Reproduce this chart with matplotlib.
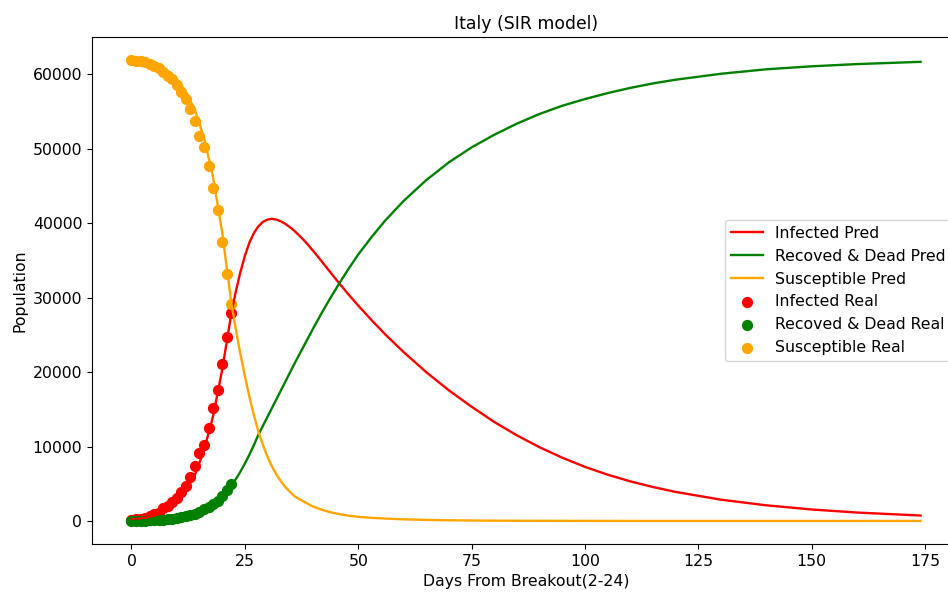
import matplotlib
matplotlib.use("Agg")
import matplotlib.pyplot as plt

# Real data (days from 2-24)
real_days = list(range(23))
infected_real = [155, 229, 322, 400, 650, 888, 1128, 1694, 2036, 2502, 3089, 3858,
                 4636, 5883, 7375, 9172, 10149, 12462, 15113, 17660, 21157, 24747, 27980]
recovered_real = [3, 8, 11, 15, 62, 67, 79, 117, 201, 239, 383, 562,
                  720, 822, 988, 1187, 1635, 1872, 2274, 2705, 3407, 4144, 4907]
susceptible_real = [61942, 61863, 61767, 61685, 61388, 61145, 60893, 60289, 59863, 59359,
                    58628, 57680, 56744, 55395, 53737, 51741, 50316, 47766, 44713, 41735,
                    37536, 33209, 29213]

# SIR prediction
pred_days = [0, 2, 4, 6, 8, 10, 12, 14, 16, 18, 20, 22, 23, 24, 25, 26, 27, 28, 29, 30,
             31, 32, 33, 34, 35, 36, 38, 40, 42, 44, 46, 48, 50, 53, 56, 60, 65, 70, 75,
             80, 85, 90, 95, 100, 105, 110, 115, 120, 130, 140, 150, 160, 174]
infected_pred = [200, 330, 550, 900, 1500, 2450, 3950, 6200, 9500, 14100, 20300, 27800,
                 30800, 33400, 35600, 37400, 38700, 39600, 40200, 40500, 40600, 40500,
                 40250, 39900, 39450, 38950, 37750, 36350, 34850, 33300, 31800, 30350,
                 28950, 26950, 25050, 22700, 20000, 17550, 15350, 13300, 11500, 9900,
                 8500, 7270, 6220, 5320, 4560, 3900, 2860, 2100, 1540, 1130, 730]
recovered_pred = [10, 15, 40, 80, 160, 300, 520, 850, 1350, 2100, 3200, 4800,
                  5600, 6600, 7700, 8900, 10200, 11600, 12800, 14000, 15200, 16400,
                  17600, 18800, 20000, 21200, 23500, 25800, 28000, 30100, 32100, 34000,
                  35800, 38200, 40400, 43000, 45800, 48200, 50200, 51900, 53400, 54700,
                  55800, 56700, 57500, 58200, 58800, 59300, 60100, 60700, 61100, 61400,
                  61700]
susceptible_pred = [61900, 61800, 61600, 61200, 60500, 59400, 57700, 55200, 51500, 46200,
                    38800, 29400, 25800, 22500, 19500, 16700, 14200, 12000, 10200, 8600,
                    7300, 6200, 5300, 4500, 3900, 3300, 2600, 1950, 1500, 1150, 900, 700,
                    560, 420, 320, 220, 140, 90, 60, 40, 28, 20, 14, 10, 7, 5, 4, 3, 2, 1,
                    1, 0, 0]

plt.rcParams['font.family'] = 'DejaVu Sans'
plt.rcParams['font.size'] = 11.3

fig = plt.figure(figsize=(9.48, 5.92), dpi=100)
ax = fig.add_axes([92 / 948, 48 / 592, 868 / 948, 507 / 592])

ax.plot(pred_days, infected_pred, color='red', lw=1.7, label='Infected Pred')
ax.plot(pred_days, recovered_pred, color='green', lw=1.7, label='Recoved & Dead Pred')
ax.plot(pred_days, susceptible_pred, color='orange', lw=1.7, label='Susceptible Pred')
ax.scatter(real_days, infected_real, color='red', s=50, label='Infected Real')
ax.scatter(real_days, recovered_real, color='green', s=50, label='Recoved & Dead Real')
ax.scatter(real_days, susceptible_real, color='orange', s=50, label='Susceptible Real')

ax.set_title('Italy (SIR model)', fontsize=12.4)
ax.set_xlabel('Days From Breakout(2-24)')
ax.set_ylabel('Population')
ax.legend(loc='center right')

fig.savefig('out.png', dpi=100)
